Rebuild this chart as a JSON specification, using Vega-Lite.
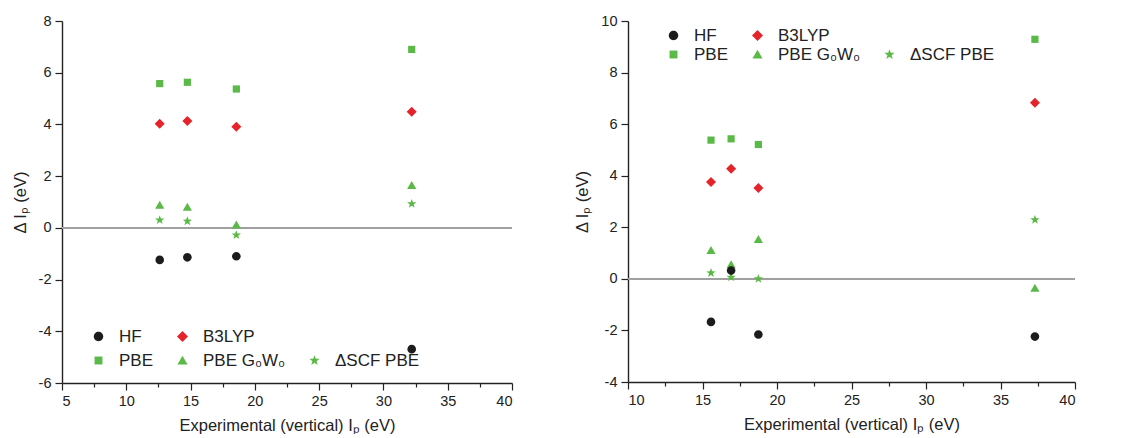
{
  "$schema": "https://vega.github.io/schema/vega-lite/v6.json",
  "background": "white",
  "padding": {"left": 12, "top": 13, "right": 5, "bottom": 0},
  "spacing": 61,
  "config": {
    "view": {"stroke": null},
    "font": "Liberation Sans",
    "axis": {
      "domainColor": "#222", "domainWidth": 1.4, "tickColor": "#222", "tickWidth": 1.2, "tickSize": 7,
      "labelFont": "Liberation Sans", "labelFontSize": 14.5, "labelColor": "#222",
      "titleFont": "Liberation Sans", "titleFontSize": 16.5, "titleFontWeight": "normal", "titleColor": "#222",
      "grid": false
    },
    "legend": {"labelFont": "Liberation Sans", "labelFontSize": 17, "labelColor": "#222"}
  },
  "datasets": {
    "left": [
      {"ip": 12.6, "dip": 5.58, "method": "PBE"},
      {"ip": 14.75, "dip": 5.63, "method": "PBE"},
      {"ip": 18.56, "dip": 5.37, "method": "PBE"},
      {"ip": 32.2, "dip": 6.90, "method": "PBE"},
      {"ip": 12.6, "dip": 4.03, "method": "B3LYP"},
      {"ip": 14.75, "dip": 4.13, "method": "B3LYP"},
      {"ip": 18.56, "dip": 3.91, "method": "B3LYP"},
      {"ip": 32.2, "dip": 4.49, "method": "B3LYP"},
      {"ip": 12.6, "dip": 0.88, "method": "PBE G₀W₀"},
      {"ip": 14.75, "dip": 0.81, "method": "PBE G₀W₀"},
      {"ip": 18.56, "dip": 0.12, "method": "PBE G₀W₀"},
      {"ip": 32.2, "dip": 1.65, "method": "PBE G₀W₀"},
      {"ip": 12.6, "dip": 0.30, "method": "ΔSCF PBE"},
      {"ip": 14.75, "dip": 0.26, "method": "ΔSCF PBE"},
      {"ip": 18.56, "dip": -0.28, "method": "ΔSCF PBE"},
      {"ip": 32.2, "dip": 0.93, "method": "ΔSCF PBE"},
      {"ip": 12.6, "dip": -1.24, "method": "HF"},
      {"ip": 14.75, "dip": -1.14, "method": "HF"},
      {"ip": 18.56, "dip": -1.10, "method": "HF"},
      {"ip": 32.2, "dip": -4.69, "method": "HF"}
    ],
    "right": [
      {"ip": 15.57, "dip": 5.38, "method": "PBE"},
      {"ip": 16.92, "dip": 5.43, "method": "PBE"},
      {"ip": 18.75, "dip": 5.21, "method": "PBE"},
      {"ip": 37.31, "dip": 9.29, "method": "PBE"},
      {"ip": 15.57, "dip": 3.76, "method": "B3LYP"},
      {"ip": 16.92, "dip": 4.27, "method": "B3LYP"},
      {"ip": 18.75, "dip": 3.52, "method": "B3LYP"},
      {"ip": 37.31, "dip": 6.83, "method": "B3LYP"},
      {"ip": 15.57, "dip": 1.11, "method": "PBE G₀W₀"},
      {"ip": 16.92, "dip": 0.56, "method": "PBE G₀W₀"},
      {"ip": 18.75, "dip": 1.54, "method": "PBE G₀W₀"},
      {"ip": 37.31, "dip": -0.35, "method": "PBE G₀W₀"},
      {"ip": 15.57, "dip": 0.23, "method": "ΔSCF PBE"},
      {"ip": 16.92, "dip": 0.06, "method": "ΔSCF PBE"},
      {"ip": 18.75, "dip": 0.0, "method": "ΔSCF PBE"},
      {"ip": 37.31, "dip": 2.29, "method": "ΔSCF PBE"},
      {"ip": 15.57, "dip": -1.67, "method": "HF"},
      {"ip": 16.92, "dip": 0.32, "method": "HF"},
      {"ip": 18.75, "dip": -2.16, "method": "HF"},
      {"ip": 37.31, "dip": -2.24, "method": "HF"}
    ]
  },
  "resolve": {
    "scale": {"color": "independent", "shape": "independent"},
    "legend": {"color": "independent", "shape": "independent"}
  },
  "hconcat": [
    {
      "width": 450,
      "height": 362,
      "data": {"name": "left"},
      "layer": [
        {
          "mark": {"type": "rule", "color": "#a0a0a0", "strokeWidth": 1.2},
          "encoding": {"y": {"datum": 0, "type": "quantitative"}}
        },
        {
          "mark": {"type": "point", "filled": true, "opacity": 1, "size": 100},
          "encoding": {
            "x": {
              "field": "ip", "type": "quantitative",
              "scale": {"domain": [5, 40], "nice": false, "zero": false},
              "axis": {
                "title": "Experimental (vertical) Iₚ (eV)",
                "values": [5, 7.5, 10, 12.5, 15, 17.5, 20, 22.5, 25, 27.5, 30, 32.5, 35, 37.5, 40],
                "labelExpr": "datum.value % 5 === 0 ? datum.label : ''",
                "tickSize": {"condition": {"test": "datum.value % 5 !== 0", "value": 4}, "value": 7},
                "labelPadding": 4, "titlePadding": 10
              }
            },
            "y": {
              "field": "dip", "type": "quantitative",
              "scale": {"domain": [-6, 8], "nice": false, "zero": false},
              "axis": {
                "title": "Δ Iₚ (eV)",
                "values": [-6, -5, -4, -3, -2, -1, 0, 1, 2, 3, 4, 5, 6, 7, 8],
                "labelExpr": "datum.value % 2 === 0 ? replace(datum.label, '−', '-') : ''",
                "tickSize": {"condition": {"test": "datum.value % 2 !== 0", "value": 4}, "value": 7},
                "labelPadding": 4, "titlePadding": 10
              }
            },
            "color": {
              "field": "method", "type": "nominal",
              "scale": {
                "domain": ["HF", "B3LYP", " ", "PBE", "PBE G₀W₀", "ΔSCF PBE"],
                "range": ["#1c1c1c", "#e5232b", "#ffffff", "#5bb947", "#5bb947", "#5bb947"]
              },
              "legend": {
                "title": null, "orient": "none", "legendX": 28, "legendY": 307, "direction": "horizontal",
                "columns": 3, "gridAlign": "none", "columnPadding": 20, "rowPadding": 6,
                "symbolSize": 120, "labelOffset": 12, "labelFontSize": 17
              }
            },
            "shape": {
              "field": "method", "type": "nominal",
              "scale": {
                "domain": ["HF", "B3LYP", " ", "PBE", "PBE G₀W₀", "ΔSCF PBE"],
                "range": [
                  "M0.86,0A0.86,0.86,0,1,1,-0.86,0A0.86,0.86,0,1,1,0.86,0Z",
                  "M0,-1L1,0L0,1L-1,0Z",
                  "M-0.7,-0.7H0.7V0.7H-0.7Z",
                  "M-0.72,-0.72H0.72V0.72H-0.72Z",
                  "M0,-0.85L0.92,0.75L-0.92,0.75Z",
                  "M0,-0.98L0.24,-0.32L0.93,-0.3L0.38,0.12L0.58,0.8L0,0.4L-0.58,0.8L-0.38,0.12L-0.93,-0.3L-0.24,-0.32Z"
                ]
              },
              "legend": {
                "title": null, "orient": "none", "legendX": 28, "legendY": 307, "direction": "horizontal",
                "columns": 3, "gridAlign": "none", "columnPadding": 20, "rowPadding": 6,
                "symbolSize": 120, "labelOffset": 12, "labelFontSize": 17
              }
            }
          }
        }
      ]
    },
    {
      "width": 447,
      "height": 361,
      "data": {"name": "right"},
      "layer": [
        {
          "mark": {"type": "rule", "color": "#a0a0a0", "strokeWidth": 1.2},
          "encoding": {"y": {"datum": 0, "type": "quantitative"}}
        },
        {
          "mark": {"type": "point", "filled": true, "opacity": 1, "size": 100},
          "encoding": {
            "x": {
              "field": "ip", "type": "quantitative",
              "scale": {"domain": [10, 40], "nice": false, "zero": false},
              "axis": {
                "title": "Experimental (vertical) Iₚ (eV)",
                "values": [10, 12.5, 15, 17.5, 20, 22.5, 25, 27.5, 30, 32.5, 35, 37.5, 40],
                "labelExpr": "datum.value % 5 === 0 ? datum.label : ''",
                "tickSize": {"condition": {"test": "datum.value % 5 !== 0", "value": 4}, "value": 7},
                "labelPadding": 4, "titlePadding": 10
              }
            },
            "y": {
              "field": "dip", "type": "quantitative",
              "scale": {"domain": [-4, 10], "nice": false, "zero": false},
              "axis": {
                "title": "Δ Iₚ (eV)",
                "values": [-4, -3, -2, -1, 0, 1, 2, 3, 4, 5, 6, 7, 8, 9, 10],
                "labelExpr": "datum.value % 2 === 0 ? replace(datum.label, '−', '-') : ''",
                "tickSize": {"condition": {"test": "datum.value % 2 !== 0", "value": 4}, "value": 7},
                "labelPadding": 4, "titlePadding": 10
              }
            },
            "color": {
              "field": "method", "type": "nominal",
              "scale": {
                "domain": ["HF", "B3LYP", " ", "PBE", "PBE G₀W₀", "ΔSCF PBE"],
                "range": ["#1c1c1c", "#e5232b", "#ffffff", "#5bb947", "#5bb947", "#5bb947"]
              },
              "legend": {
                "title": null, "orient": "none", "legendX": 37, "legendY": 6, "direction": "horizontal",
                "columns": 3, "gridAlign": "none", "columnPadding": 20, "rowPadding": 1,
                "symbolSize": 120, "labelOffset": 12, "labelFontSize": 17
              }
            },
            "shape": {
              "field": "method", "type": "nominal",
              "scale": {
                "domain": ["HF", "B3LYP", " ", "PBE", "PBE G₀W₀", "ΔSCF PBE"],
                "range": [
                  "M0.86,0A0.86,0.86,0,1,1,-0.86,0A0.86,0.86,0,1,1,0.86,0Z",
                  "M0,-1L1,0L0,1L-1,0Z",
                  "M-0.7,-0.7H0.7V0.7H-0.7Z",
                  "M-0.72,-0.72H0.72V0.72H-0.72Z",
                  "M0,-0.85L0.92,0.75L-0.92,0.75Z",
                  "M0,-0.98L0.24,-0.32L0.93,-0.3L0.38,0.12L0.58,0.8L0,0.4L-0.58,0.8L-0.38,0.12L-0.93,-0.3L-0.24,-0.32Z"
                ]
              },
              "legend": {
                "title": null, "orient": "none", "legendX": 37, "legendY": 6, "direction": "horizontal",
                "columns": 3, "gridAlign": "none", "columnPadding": 20, "rowPadding": 1,
                "symbolSize": 120, "labelOffset": 12, "labelFontSize": 17
              }
            }
          }
        }
      ]
    }
  ]
}
